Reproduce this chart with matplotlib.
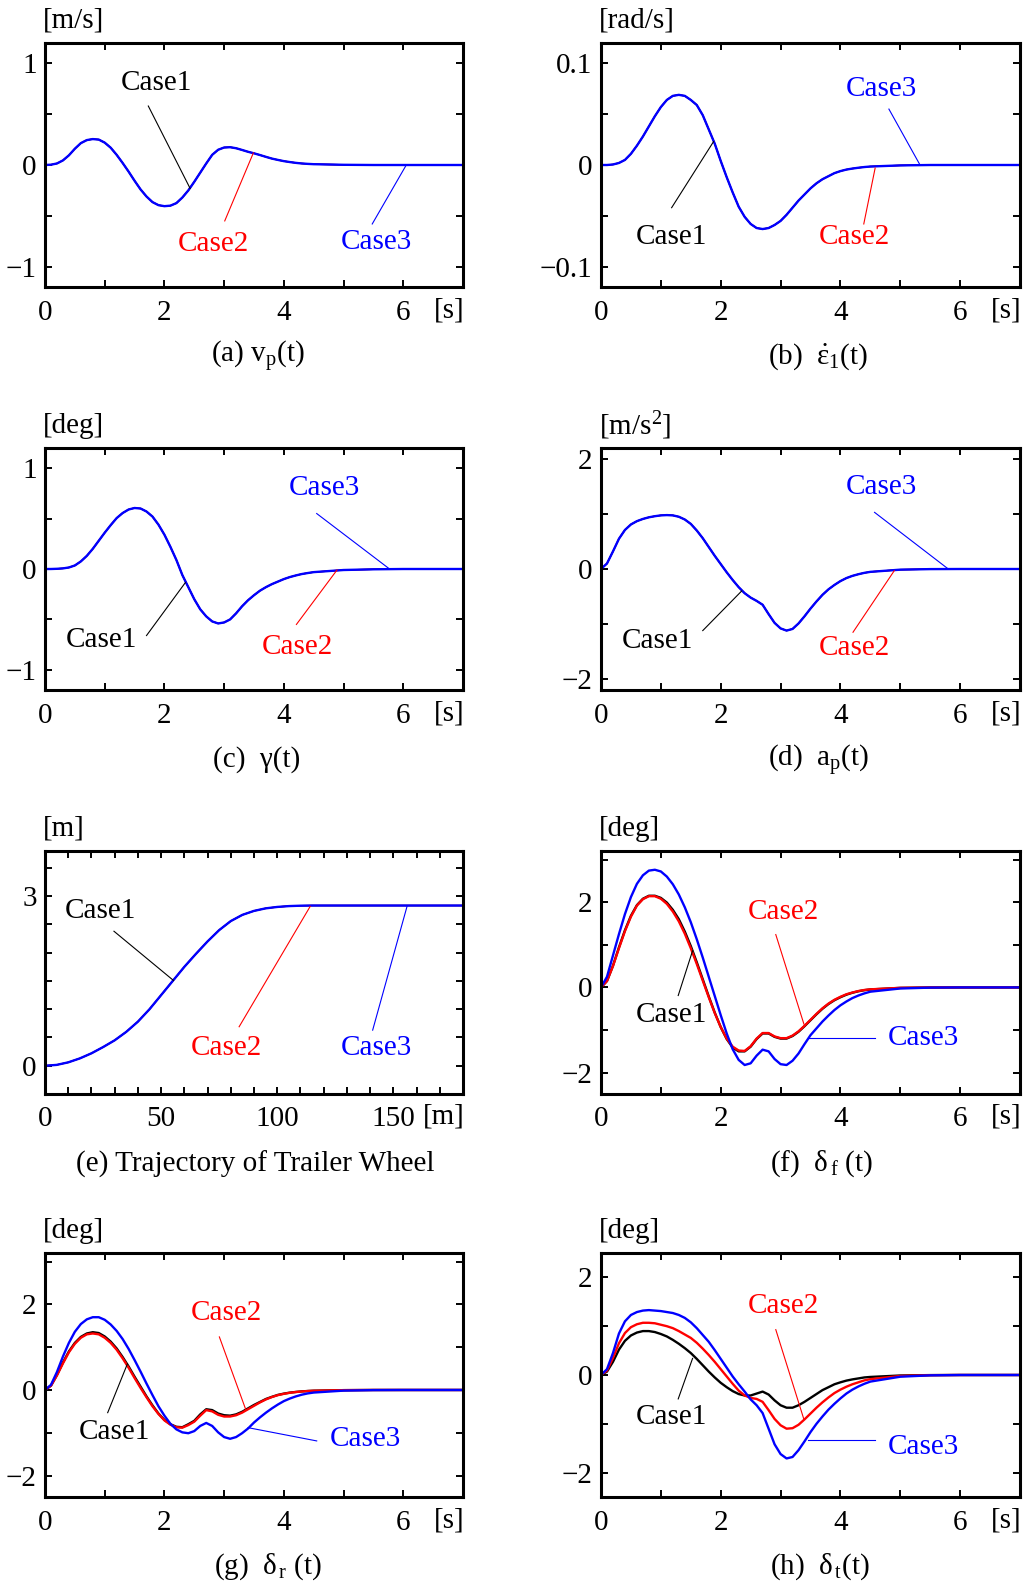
import numpy as np
import matplotlib.pyplot as plt
from matplotlib.ticker import MultipleLocator

plt.rcParams['font.family'] = 'Liberation Serif'
plt.rcParams['mathtext.fontset'] = 'custom'
plt.rcParams['mathtext.rm'] = 'Liberation Serif'
plt.rcParams['mathtext.it'] = 'Liberation Serif:italic'
plt.rcParams['mathtext.bf'] = 'Liberation Serif:bold'
plt.rcParams['font.size'] = 21
plt.rcParams['axes.linewidth'] = 2.2

# time samples [s] at which the curves were read
t_s = [round(0.1 * i, 1) for i in range(46)] + [5.0, 5.5, 6.0, 7.0]

# (a) v_p(t) [m/s]  -- the three cases coincide
vp = [0, 0.003, 0.015, 0.045, 0.095, 0.16, 0.215, 0.245, 0.255, 0.25,
      0.22, 0.17, 0.10, 0.02, -0.065, -0.155, -0.24, -0.31, -0.365, -0.395,
      -0.405, -0.40, -0.375, -0.32, -0.25, -0.165, -0.075, 0.015, 0.10, 0.15,
      0.172, 0.175, 0.165, 0.148, 0.13, 0.115, 0.098, 0.08, 0.063, 0.05,
      0.038, 0.029, 0.021, 0.015, 0.011, 0.008, 0.002, 0, 0, 0]

# (b) eps1_dot(t) [rad/s]
eps_dot = [0, 0, 0.0005, 0.002, 0.005, 0.011, 0.019, 0.028, 0.038, 0.048,
           0.057, 0.064, 0.068, 0.069, 0.068, 0.064, 0.059, 0.049, 0.035, 0.021,
           0.004, -0.012, -0.027, -0.041, -0.051, -0.058, -0.062, -0.063, -0.062, -0.059,
           -0.055, -0.049, -0.042, -0.035, -0.029, -0.023, -0.018, -0.014, -0.011, -0.008,
           -0.006, -0.0045, -0.0035, -0.0027, -0.002, -0.0015, -0.0004, 0, 0, 0]

# (c) gamma(t) [deg]
gamma = [0, 0, 0.002, 0.006, 0.015, 0.035, 0.075, 0.13, 0.20, 0.28,
         0.36, 0.435, 0.505, 0.555, 0.59, 0.605, 0.60, 0.57, 0.52, 0.44,
         0.34, 0.22, 0.09, -0.06, -0.18, -0.30, -0.40, -0.47, -0.52, -0.54,
         -0.53, -0.50, -0.44, -0.37, -0.31, -0.26, -0.215, -0.18, -0.15, -0.125,
         -0.10, -0.08, -0.064, -0.05, -0.04, -0.031, -0.01, -0.003, 0, 0]

# (d) a_p(t) [m/s^2]
ap = [0, 0.10, 0.32, 0.55, 0.71, 0.81, 0.87, 0.91, 0.94, 0.96,
      0.975, 0.98, 0.975, 0.95, 0.90, 0.82, 0.70, 0.56, 0.40, 0.24,
      0.09, -0.06, -0.20, -0.33, -0.44, -0.52, -0.58, -0.65, -0.82, -0.98,
      -1.08, -1.12, -1.09, -0.99, -0.86, -0.72, -0.59, -0.47, -0.37, -0.29,
      -0.22, -0.165, -0.125, -0.095, -0.07, -0.052, -0.012, -0.002, 0, 0]

# (e) trajectory of trailer wheel [m]
traj_x = [0, 5, 10, 15, 20, 25, 30, 35, 40, 45, 50, 55, 60, 65, 70, 75, 80,
          85, 90, 95, 100, 105, 110, 115, 120, 140, 160, 180]
traj_y = [0, 0.015, 0.06, 0.13, 0.22, 0.33, 0.45, 0.6, 0.78, 1.0, 1.25, 1.5,
          1.75, 1.98, 2.2, 2.4, 2.56, 2.67, 2.74, 2.785, 2.81, 2.825, 2.832,
          2.835, 2.835, 2.835, 2.835, 2.835]

# (f) delta_f(t) [deg]
df_case1 = [0, 0.15, 0.51, 0.94, 1.34, 1.68, 1.93, 2.08, 2.15, 2.15,
            2.10, 1.99, 1.82, 1.60, 1.31, 0.97, 0.59, 0.19, -0.21, -0.59,
            -0.93, -1.21, -1.41, -1.50, -1.50, -1.39, -1.21, -1.08, -1.08, -1.16,
            -1.20, -1.20, -1.14, -1.04, -0.91, -0.77, -0.63, -0.50, -0.39, -0.30,
            -0.23, -0.17, -0.125, -0.09, -0.065, -0.048, -0.011, -0.002, 0, 0]
df_case2 = [0, 0.15, 0.50, 0.92, 1.32, 1.66, 1.92, 2.07, 2.14, 2.14,
            2.08, 1.96, 1.78, 1.55, 1.26, 0.92, 0.55, 0.16, -0.23, -0.60,
            -0.93, -1.20, -1.39, -1.48, -1.49, -1.38, -1.20, -1.07, -1.07, -1.15,
            -1.19, -1.19, -1.13, -1.03, -0.90, -0.76, -0.62, -0.49, -0.38, -0.29,
            -0.22, -0.16, -0.12, -0.085, -0.06, -0.045, -0.01, -0.002, 0, 0]
df_case3 = [0, 0.25, 0.75, 1.25, 1.72, 2.12, 2.43, 2.63, 2.74, 2.76,
            2.72, 2.60, 2.42, 2.18, 1.88, 1.53, 1.13, 0.70, 0.25, -0.20,
            -0.65, -1.08, -1.45, -1.70, -1.82, -1.78, -1.60, -1.46, -1.50, -1.68,
            -1.80, -1.82, -1.72, -1.55, -1.33, -1.12, -0.96, -0.80, -0.66, -0.53,
            -0.42, -0.33, -0.25, -0.19, -0.14, -0.10, -0.025, -0.005, 0, 0]

# (g) delta_r(t) [deg]
dr_case1 = [0, 0.10, 0.35, 0.64, 0.90, 1.10, 1.24, 1.32, 1.35, 1.33,
            1.25, 1.13, 0.97, 0.77, 0.55, 0.31, 0.08, -0.15, -0.36, -0.55,
            -0.70, -0.80, -0.86, -0.87, -0.80, -0.72, -0.57, -0.45, -0.47, -0.55,
            -0.59, -0.60, -0.57, -0.51, -0.43, -0.35, -0.28, -0.21, -0.16, -0.115,
            -0.085, -0.062, -0.046, -0.033, -0.024, -0.017, -0.004, 0, 0, 0]
dr_case2 = [0, 0.10, 0.34, 0.62, 0.88, 1.08, 1.22, 1.30, 1.32, 1.30,
            1.22, 1.10, 0.94, 0.74, 0.52, 0.28, 0.05, -0.17, -0.38, -0.56,
            -0.71, -0.81, -0.87, -0.88, -0.82, -0.74, -0.60, -0.47, -0.50, -0.58,
            -0.62, -0.62, -0.59, -0.53, -0.45, -0.37, -0.29, -0.22, -0.165, -0.12,
            -0.09, -0.065, -0.048, -0.035, -0.025, -0.018, -0.004, 0, 0, 0]
dr_case3 = [0, 0.12, 0.42, 0.78, 1.10, 1.36, 1.54, 1.65, 1.70, 1.70,
            1.64, 1.53, 1.38, 1.19, 0.96, 0.70, 0.43, 0.15, -0.12, -0.38,
            -0.60, -0.79, -0.92, -0.99, -1.01, -0.96, -0.84, -0.77, -0.84, -0.99,
            -1.10, -1.14, -1.10, -1.01, -0.90, -0.76, -0.64, -0.53, -0.43, -0.34,
            -0.26, -0.20, -0.15, -0.11, -0.08, -0.06, -0.015, -0.003, 0, 0]

# (h) delta_t(t) [deg]
dt_case1 = [0, 0.07, 0.27, 0.52, 0.70, 0.81, 0.87, 0.90, 0.90, 0.88,
            0.84, 0.79, 0.72, 0.64, 0.55, 0.45, 0.33, 0.20, 0.07, -0.05,
            -0.16, -0.25, -0.33, -0.39, -0.42, -0.42, -0.38, -0.34, -0.40, -0.52,
            -0.62, -0.67, -0.67, -0.62, -0.55, -0.47, -0.39, -0.31, -0.25, -0.19,
            -0.15, -0.115, -0.09, -0.07, -0.05, -0.04, -0.01, -0.002, 0, 0]
dt_case2 = [0, 0.09, 0.35, 0.65, 0.86, 0.98, 1.04, 1.07, 1.07, 1.06,
            1.03, 1.00, 0.96, 0.90, 0.83, 0.76, 0.66, 0.54, 0.41, 0.27,
            0.12, -0.03, -0.18, -0.32, -0.42, -0.47, -0.49, -0.55, -0.72, -0.90,
            -1.03, -1.10, -1.09, -1.02, -0.91, -0.79, -0.67, -0.56, -0.46, -0.37,
            -0.30, -0.24, -0.19, -0.15, -0.11, -0.085, -0.02, -0.004, 0, 0]
dt_case3 = [0, 0.12, 0.45, 0.85, 1.10, 1.23, 1.29, 1.32, 1.33, 1.32,
            1.31, 1.29, 1.27, 1.23, 1.17, 1.08, 0.96, 0.82, 0.68, 0.51,
            0.33, 0.15, -0.03, -0.19, -0.34, -0.50, -0.62, -0.78, -1.10, -1.42,
            -1.62, -1.71, -1.68, -1.54, -1.36, -1.17, -1.00, -0.85, -0.71, -0.59,
            -0.48, -0.38, -0.30, -0.235, -0.18, -0.135, -0.035, -0.007, 0, 0]

colors = ['black', 'red', 'blue']

W, H = 1029, 1586
fig = plt.figure(figsize=(W / 100, H / 100), dpi=100)


def add_ax(left, top, right, bottom):
    return fig.add_axes([left / W, 1 - bottom / H, (right - left) / W, (bottom - top) / H])


def setup(ax, ylim, yticks, ylabels, yminor, unit, caption, cap_x, xunit='[s]',
          xlim=(0, 7), xticks=(0, 2, 4, 6), xminor=1):
    ax.set_xlim(*xlim)
    ax.set_ylim(*ylim)
    ax.set_xticks(list(xticks))
    ax.set_xticklabels([str(v) for v in xticks])
    ax.set_yticks(yticks)
    ax.set_yticklabels(ylabels)
    ax.xaxis.set_minor_locator(MultipleLocator(xminor))
    ax.yaxis.set_minor_locator(MultipleLocator(yminor))
    ax.tick_params(which='both', direction='in', top=True, right=True,
                   length=5, width=1.4)
    ax.tick_params(axis='x', pad=9)
    ax.tick_params(axis='y', pad=6)
    ax.annotate(unit, xy=(0, 1), xycoords='axes fraction', xytext=(-2, 22),
                textcoords='offset pixels', ha='left', va='center')
    ax.annotate(xunit, xy=(1, 0), xycoords='axes fraction', xytext=(2, -23),
                textcoords='offset pixels', ha='right', va='center')
    bb = ax.get_position()
    fig.text(cap_x / W, bb.y0 - 70 / H, caption, ha='center', va='center')


def draw(ax, x, series, notes):
    for i, (y, c) in enumerate(zip(series, colors)):
        # cases that coincide with Case3 stay hidden beneath it
        hidden = i < 2 and y is series[-1]
        ax.plot(x, y, color=c, lw=1.0 if hidden else 1.7)
    for text, c, txy, p0, p1 in notes:
        ax.plot([p0[0], p1[0]], [p0[1], p1[1]], color=c, lw=0.8)
        ax.text(txy[0], txy[1], text, color=c, ha='center', va='center')


# (a)
ax = add_ax(45, 43, 463, 287)
draw(ax, t_s, [vp, vp, vp], [
    ('Case1', 'black', (1.87, 0.81), (1.73, 0.58), (2.43, -0.23)),
    ('Case2', 'red', (2.82, -0.78), (3.01, -0.55), (3.49, 0.12)),
    ('Case3', 'blue', (5.55, -0.76), (5.48, -0.58), (6.05, 0.0))])
setup(ax, (-1.2, 1.2), [-1, 0, 1], ['\u22121', '0', '1'], 0.5, '[m/s]',
      '(a) v$_\\mathrm{p}$(t)', 258)

# (b)
ax = add_ax(601, 43, 1020, 287)
draw(ax, t_s, [eps_dot, eps_dot, eps_dot], [
    ('Case3', 'blue', (4.68, 0.075), (4.81, 0.055), (5.33, 0.0)),
    ('Case1', 'black', (1.18, -0.071), (1.18, -0.042), (1.88, 0.023)),
    ('Case2', 'red', (4.23, -0.071), (4.39, -0.058), (4.58, -0.003))])
setup(ax, (-0.12, 0.12), [-0.1, 0, 0.1], ['\u22120.1', '0', '0.1'], 0.05, '[rad/s]',
      '(b)  $\\dot{\\mathrm{\\varepsilon}}_\\mathrm{1}$(t)', 818)

# (c)
ax = add_ax(45, 448, 463, 690)
draw(ax, t_s, [gamma, gamma, gamma], [
    ('Case3', 'blue', (4.68, 0.80), (4.55, 0.55), (5.77, 0.0)),
    ('Case1', 'black', (0.95, -0.70), (1.70, -0.66), (2.35, -0.135)),
    ('Case2', 'red', (4.22, -0.77), (4.21, -0.55), (4.89, -0.01))])
setup(ax, (-1.2, 1.2), [-1, 0, 1], ['\u22121', '0', '1'], 0.5, '[deg]',
      '(c)  \u03b3(t)', 257)

# (d)
ax = add_ax(601, 448, 1020, 690)
draw(ax, t_s, [ap, ap, ap], [
    ('Case3', 'blue', (4.68, 1.49), (4.57, 1.03), (5.79, 0.01)),
    ('Case1', 'black', (0.94, -1.31), (1.70, -1.12), (2.35, -0.40)),
    ('Case2', 'red', (4.23, -1.44), (4.21, -1.15), (4.90, -0.03))])
setup(ax, (-2.2, 2.2), [-2, 0, 2], ['\u22122', '0', '2'], 1, '[m/s$^2$]',
      '(d)  a$_\\mathrm{p}$(t)', 818)

# (e)
ax = add_ax(45, 851, 463, 1094)
draw(ax, traj_x, [traj_y, traj_y, traj_y], [
    ('Case1', 'black', (24, 2.74), (29.7, 2.38), (55.3, 1.51)),
    ('Case2', 'red', (78.3, 0.31), (83.6, 0.69), (114.2, 2.82)),
    ('Case3', 'blue', (142.7, 0.31), (141.1, 0.63), (155.9, 2.82))])
setup(ax, (-0.5, 3.8), [0, 3], ['0', '3'], 0.5, '[m]',
      '(e) Trajectory of Trailer Wheel', 255, xunit='[m]',
      xlim=(0, 180), xticks=(0, 50, 100, 150), xminor=10)

# (f)
ax = add_ax(601, 851, 1020, 1094)
draw(ax, t_s, [df_case1, df_case2, df_case3], [
    ('Case2', 'red', (3.05, 1.78), (2.92, 1.24), (3.39, -0.86)),
    ('Case1', 'black', (1.18, -0.65), (1.29, -0.19), (1.53, 0.86)),
    ('Case3', 'blue', (5.39, -1.18), (3.47, -1.19), (4.57, -1.19))])
setup(ax, (-2.5, 3.2), [-2, 0, 2], ['\u22122', '0', '2'], 1, '[deg]',
      '(f)  \u03b4$_{\\,\\mathrm{f}}$ (t)', 822)

# (g)
ax = add_ax(45, 1253, 463, 1497)
draw(ax, t_s, [dr_case1, dr_case2, dr_case3], [
    ('Case2', 'red', (3.04, 1.80), (2.92, 1.24), (3.36, -0.45)),
    ('Case1', 'black', (1.17, -0.97), (1.05, -0.53), (1.38, 0.61)),
    ('Case3', 'blue', (5.37, -1.14), (3.40, -0.88), (4.55, -1.19))])
setup(ax, (-2.5, 3.2), [-2, 0, 2], ['\u22122', '0', '2'], 1, '[deg]',
      '(g)  \u03b4$_{\\,\\mathrm{r}}$ (t)', 268)

# (h)
ax = add_ax(601, 1253, 1020, 1497)
draw(ax, t_s, [dt_case1, dt_case2, dt_case3], [
    ('Case2', 'red', (3.05, 1.41), (2.92, 0.93), (3.39, -0.91)),
    ('Case1', 'black', (1.18, -0.87), (1.29, -0.49), (1.53, 0.34)),
    ('Case3', 'blue', (5.39, -1.48), (3.45, -1.34), (4.57, -1.34))])
setup(ax, (-2.5, 2.5), [-2, 0, 2], ['\u22122', '0', '2'], 1, '[deg]',
      '(h)  \u03b4$_{\\,\\mathrm{t}}$(t)', 820)

fig.savefig('out.png', dpi=100)
